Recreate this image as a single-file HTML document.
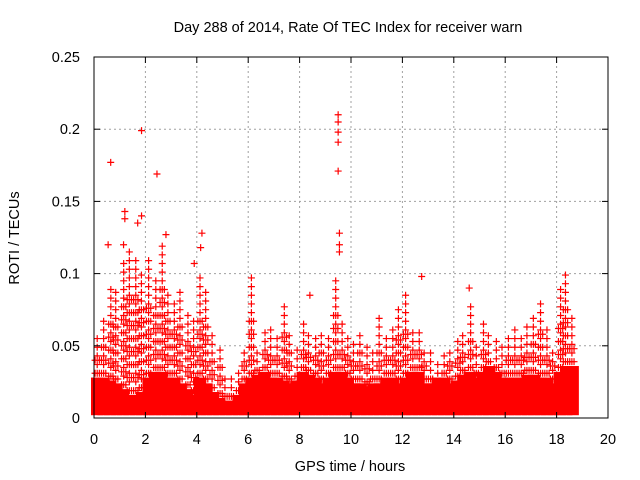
<!DOCTYPE html>
<html><head><meta charset="utf-8"><style>
body{margin:0;background:#fff}
svg{display:block;font-family:"Liberation Sans",sans-serif}
</style></head><body>
<svg id="chart" width="640" height="480" viewBox="0 0 640 480">
<text x="348" y="32" font-size="14.5" text-anchor="middle">Day 288 of 2014, Rate Of TEC Index for receiver warn</text>
<text x="350" y="471" font-size="14.5" text-anchor="middle">GPS time / hours</text>
<text transform="translate(19,238) rotate(-90)" font-size="14.5" text-anchor="middle">ROTI / TECUs</text>
<g id="grid"></g>
<g id="marks"></g>
<g id="axes"></g>
</svg>
<script>
const xTicks=[0,2,4,6,8,10,12,14,16,18,20];
const yTicks=[0,0.05,0.1,0.15,0.2,0.25];
const yTickLabels=["0","0.05","0.1","0.15","0.2","0.25"];
const binStart=[0,0.25,0.5,0.75,1,1.25,1.5,1.75,2,2.25,2.5,2.75,3,3.25,3.5,3.75,4,4.25,4.5,4.75,5,5.25,5.5,5.75,6,6.25,6.5,6.75,7,7.25,7.5,7.75,8,8.25,8.5,8.75,9,9.25,9.5,9.75,10,10.25,10.5,10.75,11,11.25,11.5,11.75,12,12.25,12.5,12.75,13,13.25,13.5,13.75,14,14.25,14.5,14.75,15,15.25,15.5,15.75,16,16.25,16.5,16.75,17,17.25,17.5,17.75,18,18.25,18.5];
const denseTop=[0.028,0.028,0.026,0.024,0.02,0.016,0.016,0.018,0.028,0.032,0.032,0.028,0.028,0.024,0.02,0.016,0.028,0.024,0.018,0.014,0.012,0.012,0.016,0.024,0.028,0.03,0.032,0.028,0.028,0.026,0.024,0.026,0.032,0.03,0.028,0.024,0.028,0.032,0.032,0.028,0.024,0.024,0.022,0.024,0.024,0.028,0.028,0.024,0.028,0.032,0.032,0.024,0.024,0.028,0.028,0.024,0.026,0.03,0.032,0.028,0.032,0.036,0.032,0.028,0.028,0.028,0.028,0.03,0.03,0.028,0.028,0.024,0.032,0.036,0.036];
const cloudTop=[0.06,0.07,0.09,0.09,0.11,0.12,0.11,0.1,0.11,0.1,0.12,0.09,0.08,0.09,0.075,0.07,0.1,0.09,0.06,0.05,0.03,0.03,0.035,0.05,0.1,0.05,0.06,0.065,0.06,0.08,0.06,0.05,0.07,0.06,0.055,0.06,0.06,0.1,0.07,0.06,0.055,0.06,0.05,0.045,0.07,0.06,0.065,0.08,0.085,0.06,0.06,0.05,0.045,0.04,0.045,0.05,0.055,0.06,0.08,0.05,0.065,0.06,0.055,0.05,0.06,0.065,0.06,0.065,0.07,0.08,0.065,0.05,0.09,0.1,0.07];
const outlierT=[0.65,1.85,2.45,9.5,9.5,9.5,9.5,9.5,9.55,9.55,9.55,1.2,1.2,1.85,1.7,4.2,4.15,12.75,14.6,2.8,8.4,1.15,0.55,3.9];
const outlierV=[0.177,0.199,0.169,0.21,0.205,0.198,0.191,0.171,0.128,0.12,0.115,0.143,0.138,0.14,0.135,0.128,0.118,0.098,0.09,0.127,0.085,0.12,0.12,0.107];
const binWidth=0.25, denseBase=0.004;
const X0=94,X1=608,Y0=418,Y1=57;
const xs=t=>X0+(t-0)/(20-0)*(X1-X0);
const ys=v=>Y0-(v-0)/(0.25-0)*(Y0-Y1);
const NS="http://www.w3.org/2000/svg";
function mk(tag,attrs,parent){const e=document.createElementNS(NS,tag);for(const k in attrs)e.setAttribute(k,attrs[k]);parent.appendChild(e);return e;}
const grid=document.getElementById('grid'),marks=document.getElementById('marks'),axes=document.getElementById('axes');
xTicks.forEach((t,i)=>{
 if(i>0&&i<xTicks.length-1){const l=mk('line',{x1:xs(t),x2:xs(t),y1:Y0,y2:Y1,stroke:'#a0a0a0','stroke-dasharray':'2,3'},grid);
 
 }
 const tk=mk('text',{x:xs(t),y:Y0+26,'font-size':14.5,'text-anchor':'middle'},axes);tk.textContent=t;
 
 
 mk('line',{x1:xs(t),x2:xs(t),y1:Y0,y2:Y0-6,stroke:'#000'},axes);
 mk('line',{x1:xs(t),x2:xs(t),y1:Y1,y2:Y1+6,stroke:'#000'},axes);
});
yTicks.forEach((v,i)=>{
 if(i>0&&i<yTicks.length-1){const l=mk('line',{x1:X0,x2:X1,y1:ys(v),y2:ys(v),stroke:'#a0a0a0','stroke-dasharray':'2,3'},grid);
 
 }
 const tk=mk('text',{x:X0-14,y:ys(v)+5,'font-size':14.5,'text-anchor':'end'},axes);tk.textContent=yTickLabels[i];
 
 
 mk('line',{x1:X0,x2:X0+6,y1:ys(v),y2:ys(v),stroke:'#000'},axes);
 mk('line',{x1:X1,x2:X1-6,y1:ys(v),y2:ys(v),stroke:'#000'},axes);
});
const fr=mk('rect',{x:X0,y:Y1,width:X1-X0,height:Y0-Y1,fill:'none',stroke:'#000'},axes);


function plus(t,v,name){
 const x=xs(t),y=ys(v);
 const p=mk('path',{d:`M${x-3.5},${y}H${x+3.5}M${x},${y-3.5}V${y+3.5}`,stroke:'#f00','stroke-width':1.2,fill:'none'},marks);
 
 
}
binStart.forEach((t,i)=>{
 const r=mk('rect',{x:xs(t)-3,y:ys(denseTop[i]),width:xs(t+binWidth)-xs(t)+6,height:ys(denseBase)-ys(denseTop[i])+3,fill:'#f00'},marks);
 
 
 for(let c=0;c<3;c++){
  const tc=t+binWidth*(c+0.5)/3;
  const top=cloudTop[i]*(c===1?1:0.75);
  const step=c===1?0.006:0.009;
  for(let v=denseTop[i]+0.003;v<=top;v+=step){plus(tc+((Math.round(v*1000))%3-1)*0.03,v,'roti-point');}
 }
});
outlierT.forEach((t,i)=>plus(t,outlierV[i],'roti-outlier'));
</script>
</body></html>
